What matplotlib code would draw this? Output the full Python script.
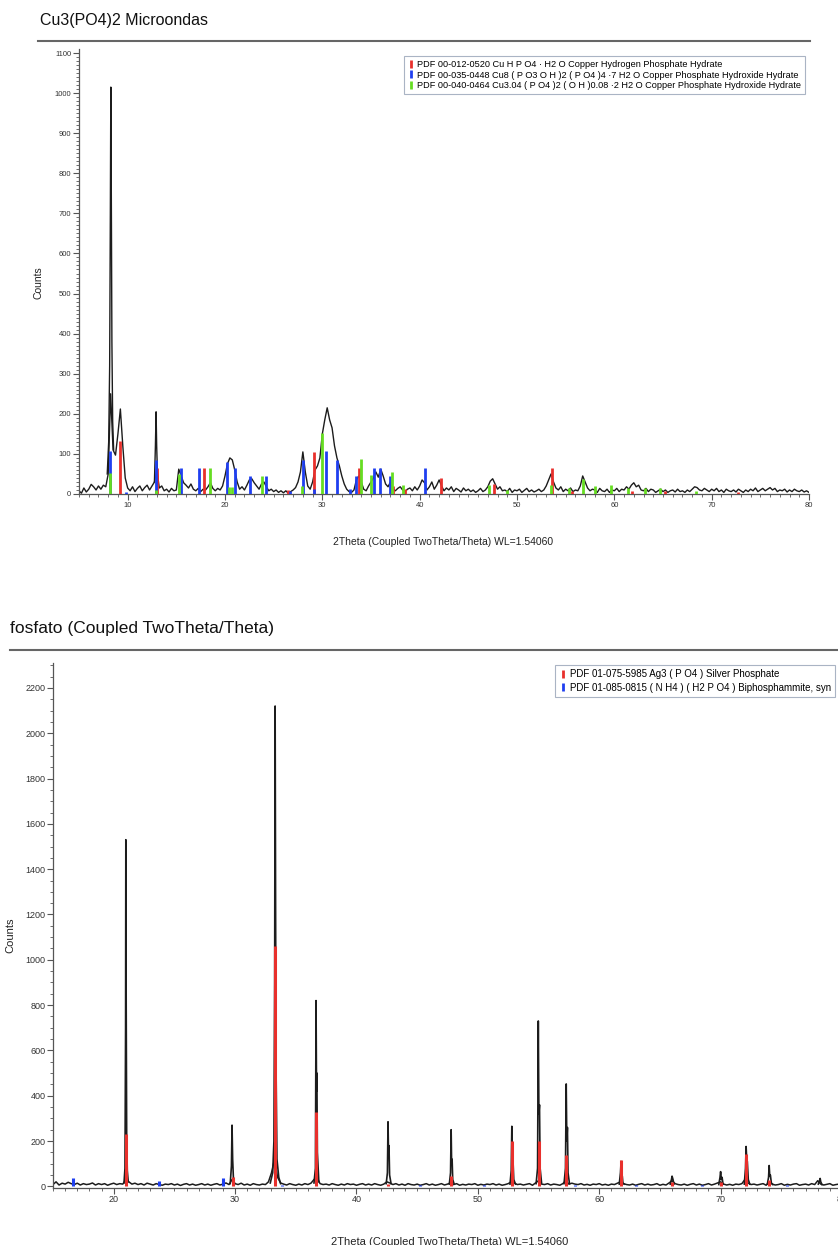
import numpy as np
import matplotlib.pyplot as plt
from matplotlib.lines import Line2D

plt.rcParams['font.family'] = ['Liberation Sans', 'DejaVu Sans']

RED = '#e8302c'
BLUE = '#1f3ff0'
GREEN = '#66dd22'
CURVE = '#1c1c1c'
AXC = '#555555'

# ---------------- painel de cima: Cu3(PO4)2 Microondas ----------------
# contagens a cada 0.25 graus, de 5 a 80
cu_counts = [
    8, 2, 15, 5,   12, 24, 18, 10,   20, 12, 22, 18,   50, 250, 110, 97,
    150, 212, 120, 40,   15, 8, 18, 6,   14, 20, 8, 16,   22, 10, 20, 30,
    60, 15, 20, 8,   12, 5, 14, 8,   10, 62, 45, 28,   22, 15, 25, 12,
    8, 14, 6, 12,   10, 18, 28, 14,   8, 14, 10, 20,   45, 75, 90, 85,
    60, 30, 12, 18,   10, 22, 35, 38,   28, 20, 12, 25,   30, 18, 8, 12,
    6, 10, 4, 8,   3, 8, 2, 6,   10, 16, 30, 55,   105, 55, 20, 12,
    30, 60, 70, 90,   150, 185, 215, 185,   165, 120, 90, 70,   45, 25, 12, 6,
    4, 10, 35, 45,   30, 12, 8, 20,   30, 40, 55, 42,   62, 45, 25, 18,
    30, 12, 8, 14,   18, 10, 6, 12,   15, 8, 18, 10,   20, 35, 28, 10,
    18, 30, 12, 22,   35, 20, 8, 15,   10, 18, 6, 14,   10, 5, 15, 8,
    12, 6, 10, 4,   8, 14, 6, 10,   18, 32, 38, 25,   12, 18, 8, 10,
    6, 14, 4, 10,   8, 12, 4, 9,   14, 6, 10, 5,   8, 12, 6, 10,
    20, 35, 50, 30,   15, 10, 18, 6,   12, 8, 15, 6,   10, 8, 20, 45,
    30, 15, 8, 12,   10, 4, 14, 8,   6, 12, 4, 10,   8, 14, 6, 12,
    10, 18, 12, 22,   28, 18, 22, 10,   8, 14, 6, 12,   10, 4, 8, 12,
    6, 10, 4, 8,   10, 5, 12, 6,   8, 4, 10, 6,   12, 18, 16, 10,
    8, 14, 10, 6,   12, 8, 14, 6,   10, 4, 12, 8,   6, 10, 5, 12,
    8, 4, 10, 6,   12, 8, 15, 6,   10, 14, 8, 12,   16, 10, 14, 6,
    10, 8, 12, 5,   10, 6, 12, 8,   6, 10, 5, 8,   4,
]
cu_theta = np.linspace(5, 80, len(cu_counts))

# picos estreitos (2theta, contagens)
cu_peaks = [
    [(7.9, 50), (8.05, 130), (8.15, 320), (8.22, 700), (8.27, 1015), (8.32, 750), (8.38, 380),
     (8.46, 180), (8.56, 110)],
    [(12.75, 30), (12.85, 120), (12.92, 205), (12.98, 120), (13.05, 60), (13.15, 25)],
]

cu_red_pos = [9.21, 13.04, 17.83, 26.5, 29.16, 33.72, 37.3, 38.5, 42.23, 47.64, 53.6, 55.6, 61.8, 65.2, 72.7]
cu_red_h = [133, 66, 66, 10, 105, 66, 20, 12, 40, 26, 66, 8, 8, 8, 6]
cu_blue_pos = [8.21, 9.86, 12.87, 15.47, 17.32, 20.16, 21.0, 22.56, 24.17, 26.7, 28.0, 29.1,
               30.39, 31.55, 32.8, 33.5, 35.29, 35.93, 37.0, 40.52]
cu_blue_h = [108, 5, 86, 65, 65, 80, 66, 44, 44, 8, 86, 12, 108, 86, 12, 46, 65, 65, 44, 66]
cu_green_pos = [8.21, 12.9, 15.27, 18.42, 20.4, 20.7, 23.82, 27.9, 29.98, 33.96, 35.05, 37.17,
                38.3, 47.1, 49.0, 53.5, 55.34, 56.8, 58.0, 59.65, 61.4, 63.2, 64.7, 68.4]
cu_green_h = [53, 10, 51, 66, 17, 17, 44, 20, 152, 88, 48, 54,
              23, 22, 10, 23, 15, 38, 20, 23, 14, 14, 15, 8]

cu_legend = [
    'PDF 00-012-0520 Cu H P O4 · H2 O Copper Hydrogen Phosphate Hydrate',
    'PDF 00-035-0448 Cu8 ( P O3 O H )2 ( P O4 )4 ·7 H2 O Copper Phosphate Hydroxide Hydrate',
    'PDF 00-040-0464 Cu3.04 ( P O4 )2 ( O H )0.08 ·2 H2 O Copper Phosphate Hydroxide Hydrate',
]

# ---------------- painel de baixo: fosfato ----------------
fo_counts = [
    8, 20, 6, 14,   10, 18, 12, 8,   14, 6, 12, 8,   10, 15, 6, 12,
    8, 12, 5, 10,   14, 8, 12, 10,   30, 20, 10, 14,   8, 12, 6, 14,
    10, 6, 12, 8,   5, 10, 8, 12,   6, 10, 4, 9,   12, 6, 10, 5,
    8, 12, 6, 10,   5, 9, 12, 6,   10, 15, 8, 30,   12, 8, 14, 6,
    10, 5, 12, 8,   6, 10, 8, 20,   60, 120, 40, 15,   10, 6, 12, 8,
    5, 10, 6, 12,   8, 14, 30, 40,   12, 8, 10, 6,   12, 8, 5, 10,
    6, 12, 8, 10,   5, 9, 12, 6,   10, 6, 12, 8,   5, 10, 20, 15,
    8, 12, 6, 10,   5, 12, 8, 6,   10, 5, 8, 12,   6, 10, 5, 8,
    12, 6, 10, 15,   8, 12, 5, 9,   6, 10, 8, 12,   5, 9, 6, 10,
    8, 12, 6, 10,   5, 8, 12, 20,   15, 8, 10, 6,   9, 12, 5, 15,
    25, 10, 8, 12,   6, 10, 8, 5,   12, 25, 10, 14,   10, 8, 12, 6,
    9, 5, 10, 8,   12, 6, 9, 5,   10, 8, 14, 20,   12, 8, 6, 10,
    5, 9, 12, 6,   10, 6, 8, 12,   5, 9, 6, 15,   25, 12, 8, 6,
    10, 5, 9, 12,   6, 10, 5, 8,   12, 6, 10, 15,   20, 10, 6, 9,
    5, 10, 8, 12,   30, 15, 8, 10,   6, 9, 12, 5,   20, 10, 6, 8,
    12, 5, 9, 6,   10, 12, 5, 8,   10, 6, 12, 8,   25, 10, 6, 9,
    12, 5, 8, 10,   6,
]
fo_theta = np.linspace(15, 80, len(fo_counts))

fo_peaks = [
    [(20.85, 15), (20.93, 80), (20.98, 700), (21.0, 1530), (21.03, 800), (21.07, 220), (21.12, 70), (21.2, 20)],
    [(29.6, 12), (29.7, 90), (29.75, 270), (29.8, 120), (29.86, 40), (29.95, 12)],
    [(32.9, 15), (33.1, 60), (33.2, 200), (33.26, 900), (33.3, 2120), (33.34, 1200), (33.38, 500),
     (33.45, 120), (33.6, 40), (33.75, 12)],
    [(36.5, 15), (36.62, 80), (36.67, 820), (36.71, 420), (36.74, 500), (36.78, 150), (36.9, 20)],
    [(42.45, 12), (42.55, 60), (42.6, 285), (42.64, 150), (42.68, 180), (42.73, 50), (42.85, 12)],
    [(47.65, 10), (47.75, 60), (47.8, 250), (47.84, 100), (47.88, 120), (47.93, 30), (48.05, 10)],
    [(52.65, 10), (52.75, 70), (52.8, 265), (52.85, 100), (52.9, 110), (52.96, 30), (53.1, 10)],
    [(54.8, 12), (54.92, 80), (54.98, 730), (55.03, 320), (55.08, 360), (55.13, 80), (55.25, 15)],
    [(57.1, 12), (57.22, 80), (57.28, 452), (57.33, 200), (57.38, 260), (57.43, 60), (57.55, 12)],
    [(61.65, 10), (61.75, 60), (61.8, 110), (61.85, 50), (61.9, 45), (61.95, 15), (62.05, 10)],
    [(65.85, 10), (65.95, 30), (66.0, 45), (66.08, 30), (66.15, 10)],
    [(69.85, 8), (69.95, 40), (70.0, 65), (70.06, 30), (70.12, 40), (70.2, 10)],
    [(71.95, 10), (72.05, 80), (72.1, 176), (72.15, 120), (72.2, 110), (72.28, 30), (72.4, 10)],
    [(73.85, 10), (73.95, 40), (74.0, 92), (74.05, 45), (74.1, 50), (74.18, 15), (74.3, 8)],
    [(78.05, 10), (78.15, 25), (78.2, 35), (78.25, 20), (78.35, 8)],
]

fo_red_pos = [21.0, 29.8, 33.3, 36.7, 42.6, 47.8, 52.8, 55.0, 57.3, 61.8, 66.0, 70.0, 72.1, 74.0]
fo_red_h = [230, 40, 1060, 330, 10, 46, 202, 202, 140, 117, 20, 20, 145, 30]
fo_blue_pos = [16.67, 23.7, 29.04, 33.85, 45.2, 50.5, 58.0, 63.0, 68.5, 75.5]
fo_blue_h = [37, 24, 37, 8, 8, 6, 6, 6, 6, 6]

fo_legend = [
    'PDF 01-075-5985 Ag3 ( P O4 ) Silver Phosphate',
    'PDF 01-085-0815 ( N H4 ) ( H2 P O4 ) Biphosphammite, syn',
]

xlabel = '2Theta (Coupled TwoTheta/Theta) WL=1.54060'

W, H = 838, 1245
fig = plt.figure(figsize=(W / 100, H / 100), dpi=100)


def px_axes(left, top, right, bottom):
    return fig.add_axes([left / W, 1 - bottom / H, (right - left) / W, (bottom - top) / H])


def style(ax, tick_size):
    for s in ['top', 'right']:
        ax.spines[s].set_visible(False)
    for s in ['left', 'bottom']:
        ax.spines[s].set_color(AXC)
        ax.spines[s].set_linewidth(0.9)
    ax.tick_params(which='major', direction='out', length=4, width=0.8, color=AXC,
                   labelsize=tick_size, labelcolor='#333333', pad=1.5)
    ax.tick_params(which='minor', direction='out', length=2, width=0.6, color=AXC)


def legend(ax, labels, colors, anchor, size, spacing):
    handles = [Line2D([], [], color=c, marker='|', linestyle='None', markersize=6,
                      markeredgewidth=2) for c in colors]
    lg = ax.legend(handles, labels, loc='upper right', bbox_to_anchor=anchor, fontsize=size,
                   frameon=True, fancybox=False, framealpha=1, edgecolor='#aab4c4',
                   handlelength=0.8, handletextpad=0.3, borderpad=0.4, labelspacing=spacing,
                   borderaxespad=0)
    lg.get_frame().set_linewidth(0.8)


# ---- cima
ax1 = px_axes(79, 49, 809, 494)
ax1.plot(cu_theta, cu_counts, color=CURVE, lw=1.0, zorder=2)
for pk in cu_peaks:
    px, py = zip(*pk)
    ax1.plot(px, py, color=CURVE, lw=1.0, zorder=2)
ax1.vlines(cu_red_pos, 0, cu_red_h, color=RED, lw=2, zorder=3)
ax1.vlines(cu_blue_pos, 0, cu_blue_h, color=BLUE, lw=2, zorder=3)
ax1.vlines(cu_green_pos, 0, cu_green_h, color=GREEN, lw=2, zorder=3)
ax1.set_xlim(5, 80)
ax1.set_ylim(0, 1110)
ax1.set_xticks(range(10, 81, 10))
ax1.set_xticks(range(5, 81), minor=True)
ax1.set_yticks(range(0, 1101, 100))
ax1.set_yticks(range(0, 1101, 10), minor=True)
style(ax1, 5.5)
ax1.set_xlabel(xlabel, fontsize=7.5, color='#222222')
ax1.xaxis.set_label_coords(0.499, -0.097)
ax1.set_ylabel('Counts', fontsize=7.5, color='#222222')
ax1.yaxis.set_label_coords(-0.048, 0.475)
legend(ax1, cu_legend, [RED, BLUE, GREEN], (0.9945, 0.984), 6.6, 0.2)

fig.text(40 / W, 1 - 20 / H, 'Cu3(PO4)2 Microondas', fontsize=11.5, va='center', ha='left',
         color='#111111')
fig.add_artist(Line2D([38 / W, 810 / W], [1 - 41 / H] * 2, color='#666666', lw=1.5))

# ---- baixo
ax2 = px_axes(53, 663, 842, 1187.5)
ax2.plot(fo_theta, fo_counts, color=CURVE, lw=1.1, zorder=2)
for pk in fo_peaks:
    px, py = zip(*pk)
    ax2.plot(px, py, color=CURVE, lw=1.2, zorder=2)
ax2.vlines(fo_blue_pos, 0, fo_blue_h, color=BLUE, lw=2.2, zorder=3)
ax2.vlines(fo_red_pos, 0, fo_red_h, color=RED, lw=2.2, zorder=3)
ax2.set_xlim(15, 80)
ax2.set_ylim(-5, 2310)
ax2.set_xticks(range(20, 81, 10))
ax2.set_xticks(range(15, 81), minor=True)
ax2.set_yticks(range(0, 2201, 200))
ax2.set_yticks(range(0, 2301, 50), minor=True)
style(ax2, 6.5)
ax2.set_xlabel(xlabel, fontsize=8, color='#222222')
ax2.xaxis.set_label_coords(0.503, -0.094)
ax2.set_ylabel('Counts', fontsize=8, color='#222222')
ax2.yaxis.set_label_coords(-0.048, 0.48)
legend(ax2, fo_legend, [RED, BLUE], (0.991, 0.996), 7, 0.4)

fig.text(10 / W, 1 - 628 / H, 'fosfato (Coupled TwoTheta/Theta)', fontsize=12.5, va='center',
         ha='left', color='#111111')
fig.add_artist(Line2D([10 / W, 1.0], [1 - 650 / H] * 2, color='#666666', lw=1.5))

fig.savefig('out.png', dpi=100)
